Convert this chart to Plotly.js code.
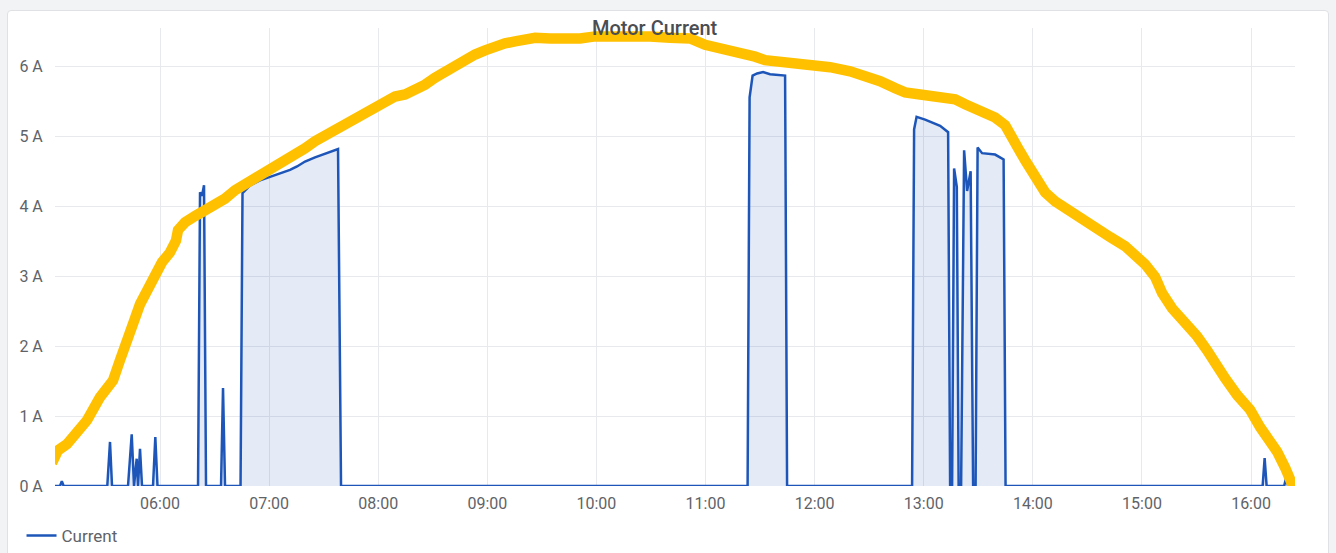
<!DOCTYPE html>
<html>
<head>
<meta charset="utf-8">
<script src="https://cdn.plot.ly/plotly-3.0.1.min.js"></script>
<style>
  html, body { margin: 0; padding: 0; background: #f2f3f5; width: 1336px; height: 553px; overflow: hidden; }
  #card { position: absolute; left: 7px; top: 10px; width: 1322px; height: 560px; background: #ffffff; border: 1px solid #dfe1e5; border-radius: 4px; box-sizing: border-box; }
  #chart { position: absolute; left: 0; top: 0; width: 1336px; height: 553px; }
</style>
</head>
<body>
<div id="card"></div>
<div id="chart"></div>
<script>
const DAY = '2024-01-01 ';

// Motor current series (time of day, amperes)
const currentTimes = [
  '05:02:15','05:05:00','05:06:00','05:07:00',
  '05:31:00','05:32:30','05:33:36',
  '05:42:24','05:44:26','05:45:42','05:47:10','05:47:54','05:49:00','05:50:06',
  '05:56:09','05:57:25','05:58:37',
  '06:20:54','06:22:00','06:23:06','06:24:12','06:25:18',
  '06:33:33','06:34:39','06:35:45',
  '06:44:17','06:45:22','06:49:30','06:55:00','07:00:30','07:06:00','07:11:30','07:15:21','07:19:45','07:25:15','07:30:45','07:37:54','07:39:33',
  '11:23:08','11:24:14','11:25:53','11:28:21','11:31:39','11:35:30','11:39:21','11:43:45','11:44:51',
  '12:53:36','12:54:42','12:56:04','13:00:45','13:05:09','13:09:00','13:13:24','13:14:30',
  '13:15:36','13:16:42','13:18:11','13:19:11',
  '13:20:33','13:22:12','13:23:51','13:25:47','13:27:09',
  '13:28:31','13:29:37','13:32:06','13:39:15','13:43:55','13:45:00',
  '16:06:22','16:07:28','16:08:34',
  '16:18:12','16:19:18','16:20:24','16:24:15'
];
const currentValues = [
  0, 0, 0.07, 0,
  0, 0.63, 0,
  0, 0.74, 0, 0.39, 0, 0.53, 0,
  0, 0.70, 0,
  0, 4.20, 4.15, 4.30, 0,
  0, 1.40, 0,
  0, 4.19, 4.30, 4.37, 4.42, 4.47, 4.52, 4.57, 4.64, 4.70, 4.75, 4.82, 0,
  0, 5.56, 5.87, 5.90, 5.92, 5.89, 5.88, 5.87, 0,
  0, 5.10, 5.28, 5.24, 5.19, 5.15, 5.06, 0,
  0, 4.54, 4.28, 0,
  0, 4.80, 4.22, 4.50, 0,
  0, 4.84, 4.76, 4.74, 4.67, 0,
  0, 0.40, 0,
  0, 0.12, 0, 0
];

// Hand-drawn yellow arc over the chart (time of day, amperes)
const arcTimes = [
  '05:00:36','05:03:54','05:08:51','05:13:15','05:19:51','05:27:00','05:34:09','05:38:00','05:40:45','05:43:30',
  '05:46:15','05:49:00','05:52:51','05:57:15','06:01:06','06:05:30','06:08:48','06:09:54','06:13:45','06:19:15',
  '06:24:45','06:30:15','06:35:45','06:41:15','06:46:45','06:52:15','06:57:45','07:03:15','07:08:45','07:14:15',
  '07:19:45','07:25:15','07:30:45','07:36:15','07:41:45','07:47:15','07:52:45','07:58:15','08:03:45','08:09:15',
  '08:14:45','08:20:15','08:25:45','08:31:15','08:36:45','08:42:15','08:47:45','08:53:15','08:58:45','09:04:15',
  '09:09:45','09:15:15','09:20:45','09:26:15','09:34:30','09:42:45','09:51:00','09:59:15','10:07:30','10:18:30',
  '10:29:30','10:40:30','10:51:30','10:59:45','11:08:00','11:19:00','11:27:15','11:32:45','11:41:00','11:52:00',
  '12:00:15','12:08:30','12:19:30','12:27:45','12:36:00','12:44:15','12:49:45','12:58:00','13:09:00','13:17:15',
  '13:22:45','13:31:00','13:39:15','13:44:45','13:48:36','13:51:54','13:55:45','14:01:15','14:06:45','14:12:15',
  '14:17:45','14:26:00','14:34:15','14:42:30','14:50:45','14:56:15','15:01:45','15:07:15','15:11:06','15:16:36',
  '15:23:45','15:30:21','15:35:51','15:40:15','15:45:45','15:52:21','15:59:30','16:05:00','16:10:30','16:14:21',
  '16:18:45','16:23:09'
];
const arcValues = [
  0.33, 0.51, 0.60, 0.76, 0.94, 1.27, 1.51, 1.80, 1.97, 2.20,
  2.40, 2.60, 2.80, 3.06, 3.20, 3.34, 3.51, 3.66, 3.77, 3.86,
  3.94, 4.03, 4.11, 4.23, 4.31, 4.40, 4.49, 4.57, 4.66, 4.74,
  4.83, 4.93, 5.01, 5.10, 5.17, 5.26, 5.34, 5.43, 5.51, 5.57,
  5.60, 5.66, 5.74, 5.84, 5.93, 6.01, 6.10, 6.17, 6.23, 6.29,
  6.33, 6.36, 6.40, 6.41, 6.40, 6.39, 6.40, 6.43, 6.44, 6.43,
  6.43, 6.41, 6.40, 6.31, 6.27, 6.21, 6.14, 6.09, 6.07, 6.06,
  6.03, 5.99, 5.93, 5.87, 5.79, 5.69, 5.63, 5.60, 5.57, 5.53,
  5.46, 5.37, 5.27, 5.16, 5.01, 4.83, 4.66, 4.41, 4.20, 4.07,
  3.97, 3.84, 3.70, 3.56, 3.43, 3.31, 3.17, 2.99, 2.76, 2.54,
  2.34, 2.14, 1.94, 1.73, 1.54, 1.30, 1.09, 0.84, 0.66, 0.49,
  0.26, -0.01
];

const yTickVals = [0, 1, 2, 3, 4, 5, 6];
const yTickText = ['0 A', '1 A', '2 A', '3 A', '4 A', '5 A', '6 A'];

const toX = t => DAY + t;
const xs = currentTimes.map(toX);

const traces = [
  {
    type: 'scatter',
    mode: 'lines',
    name: 'Current area',
    x: xs,
    y: currentValues,
    line: { color: 'rgba(0,0,0,0)', width: 0 },
    fill: 'tozeroy',
    fillcolor: 'rgba(29,86,184,0.12)',
    showlegend: false,
    hoverinfo: 'skip'
  },
  {
    type: 'scatter',
    mode: 'lines',
    name: 'Current',
    x: xs,
    y: currentValues,
    line: { color: '#1d56b8', width: 2.5, shape: 'linear' },
    hoverinfo: 'x+y'
  },
  {
    type: 'scatter',
    mode: 'lines',
    name: 'arc',
    x: arcTimes.map(toX),
    y: arcValues,
    line: { color: '#FFC000', width: 10.5, shape: 'linear' },
    showlegend: false,
    hoverinfo: 'skip'
  }
];

const layout = {
  width: 1336,
  height: 553,
  margin: { l: 55, r: 41, t: 27.5, b: 67, pad: 0, autoexpand: false },
  paper_bgcolor: 'rgba(0,0,0,0)',
  plot_bgcolor: 'rgba(0,0,0,0)',
  font: { family: 'Roboto, "Noto Sans", sans-serif', color: '#5f6368', size: 16 },
  title: {
    text: 'Motor Current',
    font: { family: 'Roboto, sans-serif', size: 20, color: '#4a4d52', weight: 500 },
    xref: 'container', x: 0.49, xanchor: 'center',
    yref: 'container', y: 0.949, yanchor: 'middle',
    automargin: false
  },
  xaxis: {
    type: 'date',
    range: [DAY + '05:02:15', DAY + '16:24:10'],
    tick0: DAY + '06:00:00',
    dtick: 3600000,
    tickformat: '%H:%M',
    showgrid: true,
    gridcolor: '#e8e9ec',
    gridwidth: 1,
    zeroline: false,
    showline: false,
    ticks: 'outside',
    ticklen: 3,
    tickcolor: 'rgba(0,0,0,0)',
    tickfont: { size: 16, color: '#5f6368' },
    automargin: false
  },
  yaxis: {
    range: [0, 6.55],
    tickvals: yTickVals,
    ticktext: yTickText,
    showgrid: true,
    gridcolor: '#e8e9ec',
    gridwidth: 1,
    zeroline: false,
    showline: false,
    ticks: 'outside',
    ticklen: 8,
    tickcolor: 'rgba(0,0,0,0)',
    tickfont: { size: 16, color: '#5f6368' },
    automargin: false
  },
  showlegend: true,
  legend: {
    orientation: 'h',
    x: -0.027, xanchor: 'left',
    y: -0.07, yanchor: 'top',
    font: { size: 17, color: '#5f6368' },
    bgcolor: 'rgba(0,0,0,0)'
  }
};

Plotly.newPlot('chart', traces, layout, { displayModeBar: false, staticPlot: true });
</script>
</body>
</html>
